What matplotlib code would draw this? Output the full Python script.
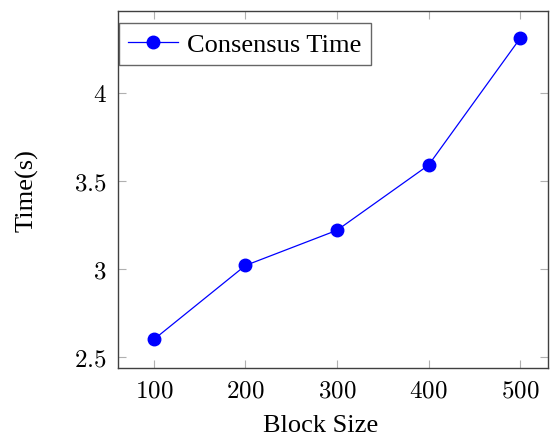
import matplotlib
matplotlib.use("Agg")
import matplotlib.pyplot as plt
from matplotlib.ticker import FuncFormatter

block_size = [100, 200, 300, 400, 500]
consensus_time = [2.60, 3.02, 3.22, 3.59, 4.31]
x_ticks = [100, 200, 300, 400, 500]
y_ticks = [2.5, 3, 3.5, 4]

plt.rcParams["font.family"] = ["Liberation Serif", "DejaVu Serif"]
plt.rcParams["mathtext.fontset"] = "cm"

fig = plt.figure(figsize=(5.5, 4.39), dpi=100)
ax = fig.add_axes([0.2145, 0.1595, 0.782, 0.8132])

ax.plot(block_size, consensus_time, color="blue", marker="o", markersize=9,
        linewidth=0.9, label="Consensus Time")

ax.set_xlim(60.7, 530.6)
ax.set_ylim(2.4375, 4.466)
ax.set_xticks(x_ticks)
ax.set_yticks(y_ticks)
ax.xaxis.set_major_formatter(FuncFormatter(lambda v, p: f"$\\mathrm{{{v:g}}}$"))
ax.yaxis.set_major_formatter(FuncFormatter(lambda v, p: f"$\\mathrm{{{v:g}}}$"))
ax.tick_params(direction="in", length=6, width=0.8, color="#b0b0b0",
               top=True, right=True, labelsize=18, pad=8)
for s in ax.spines.values():
    s.set_color("#404040")
    s.set_linewidth(1.0)

ax.set_xlabel("Block Size", fontsize=19)
ax.xaxis.set_label_coords(0.472, -0.128)
ax.set_ylabel("Time(s)", fontsize=19, labelpad=26)

leg = ax.legend(loc="upper left", bbox_to_anchor=(0.002, 0.966), borderaxespad=0,
                fontsize=19, frameon=True, fancybox=False, edgecolor="#404040",
                handlelength=1.9, handletextpad=0.35, borderpad=0.35)
leg.get_frame().set_linewidth(1.0)

fig.savefig("out.png", dpi=100)
